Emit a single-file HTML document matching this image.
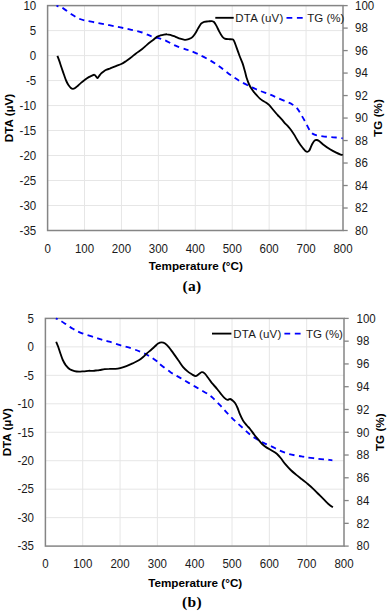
<!DOCTYPE html>
<html><head><meta charset="utf-8"><style>
html,body{margin:0;padding:0;background:#fff;}
svg{display:block;}
.t{font-family:"Liberation Sans",sans-serif;font-size:11.5px;fill:#1a1a1a;}
.b{font-family:"Liberation Sans",sans-serif;font-size:11.7px;font-weight:bold;fill:#000;}
.l{letter-spacing:0.25px;}
.c{font-family:"Liberation Serif",serif;font-size:15.5px;font-weight:bold;letter-spacing:0.3px;fill:#000;}
</style></head><body>
<svg width="387" height="611" viewBox="0 0 387 611">
<rect width="387" height="611" fill="#fff"/>
<line x1="47.6" y1="30.59" x2="343.0" y2="30.59" stroke="#e6e6e6" stroke-width="1"/>
<line x1="47.6" y1="55.58" x2="343.0" y2="55.58" stroke="#e6e6e6" stroke-width="1"/>
<line x1="47.6" y1="80.57" x2="343.0" y2="80.57" stroke="#e6e6e6" stroke-width="1"/>
<line x1="47.6" y1="105.56" x2="343.0" y2="105.56" stroke="#e6e6e6" stroke-width="1"/>
<line x1="47.6" y1="130.54" x2="343.0" y2="130.54" stroke="#e6e6e6" stroke-width="1"/>
<line x1="47.6" y1="155.53" x2="343.0" y2="155.53" stroke="#e6e6e6" stroke-width="1"/>
<line x1="47.6" y1="180.52" x2="343.0" y2="180.52" stroke="#e6e6e6" stroke-width="1"/>
<line x1="47.6" y1="205.51" x2="343.0" y2="205.51" stroke="#e6e6e6" stroke-width="1"/>
<line x1="84.53" y1="5.6" x2="84.53" y2="230.5" stroke="#e6e6e6" stroke-width="1"/>
<line x1="121.45" y1="5.6" x2="121.45" y2="230.5" stroke="#e6e6e6" stroke-width="1"/>
<line x1="158.38" y1="5.6" x2="158.38" y2="230.5" stroke="#e6e6e6" stroke-width="1"/>
<line x1="195.30" y1="5.6" x2="195.30" y2="230.5" stroke="#e6e6e6" stroke-width="1"/>
<line x1="232.22" y1="5.6" x2="232.22" y2="230.5" stroke="#e6e6e6" stroke-width="1"/>
<line x1="269.15" y1="5.6" x2="269.15" y2="230.5" stroke="#e6e6e6" stroke-width="1"/>
<line x1="306.07" y1="5.6" x2="306.07" y2="230.5" stroke="#e6e6e6" stroke-width="1"/>
<rect x="47.6" y="5.6" width="295.40" height="224.90" fill="none" stroke="#858585" stroke-width="1.5"/>
<line x1="343.0" y1="5.60" x2="347.70" y2="5.60" stroke="#858585" stroke-width="1.3"/>
<line x1="343.0" y1="28.09" x2="347.70" y2="28.09" stroke="#858585" stroke-width="1.3"/>
<line x1="343.0" y1="50.58" x2="347.70" y2="50.58" stroke="#858585" stroke-width="1.3"/>
<line x1="343.0" y1="73.07" x2="347.70" y2="73.07" stroke="#858585" stroke-width="1.3"/>
<line x1="343.0" y1="95.56" x2="347.70" y2="95.56" stroke="#858585" stroke-width="1.3"/>
<line x1="343.0" y1="118.05" x2="347.70" y2="118.05" stroke="#858585" stroke-width="1.3"/>
<line x1="343.0" y1="140.54" x2="347.70" y2="140.54" stroke="#858585" stroke-width="1.3"/>
<line x1="343.0" y1="163.03" x2="347.70" y2="163.03" stroke="#858585" stroke-width="1.3"/>
<line x1="343.0" y1="185.52" x2="347.70" y2="185.52" stroke="#858585" stroke-width="1.3"/>
<line x1="343.0" y1="208.01" x2="347.70" y2="208.01" stroke="#858585" stroke-width="1.3"/>
<line x1="343.0" y1="230.50" x2="347.70" y2="230.50" stroke="#858585" stroke-width="1.3"/>
<path d="M56.5,6.0 C56.8,6.0 57.3,5.9 58.5,6.3 C59.7,6.7 61.4,7.2 63.6,8.6 C65.8,10.0 69.5,12.9 71.9,14.5 C74.3,16.1 76.0,17.2 78.1,18.2 C80.2,19.2 81.2,19.6 84.3,20.3 C87.4,21.1 92.5,21.9 96.7,22.7 C100.9,23.5 105.3,24.4 109.3,25.2 C113.3,26.0 116.8,26.6 120.5,27.4 C124.2,28.2 127.8,28.9 131.4,29.8 C135.0,30.7 138.8,31.4 142.2,32.5 C145.5,33.6 148.9,35.5 151.5,36.4 C154.1,37.3 155.5,37.3 157.7,37.9 C159.9,38.5 161.7,38.9 164.7,40.2 C167.7,41.5 171.9,44.1 175.5,45.7 C179.1,47.3 184.0,48.8 186.4,49.6 C188.8,50.4 188.0,49.8 190.0,50.6 C192.0,51.4 195.2,52.7 198.3,54.2 C201.4,55.7 205.5,57.8 208.6,59.5 C211.7,61.2 214.2,62.7 216.9,64.6 C219.7,66.5 222.3,68.7 225.1,70.8 C227.8,72.9 230.6,75.1 233.4,77.0 C236.2,78.9 238.6,80.5 241.7,82.2 C244.8,83.9 248.9,86.0 252.0,87.4 C255.1,88.9 257.0,89.7 260.0,90.9 C263.0,92.1 267.1,93.4 270.0,94.6 C272.9,95.8 274.7,96.6 277.6,97.9 C280.5,99.2 285.2,101.2 287.6,102.2 C290.0,103.2 290.6,103.4 292.0,104.2 C293.4,105.0 294.9,106.0 296.1,107.2 C297.3,108.4 298.4,110.0 299.3,111.4 C300.2,112.8 300.8,114.1 301.8,115.8 C302.8,117.5 304.1,119.7 305.2,121.7 C306.3,123.7 307.3,126.1 308.3,127.9 C309.3,129.7 310.2,131.4 311.4,132.6 C312.5,133.8 313.6,134.3 315.2,134.9 C316.8,135.5 318.5,135.7 320.7,136.0 C322.9,136.3 325.8,136.7 328.4,136.9 C331.0,137.2 333.8,137.3 336.2,137.5 C338.6,137.7 341.6,138.2 342.7,138.3" fill="none" stroke="#0000ff" stroke-width="1.85" stroke-dasharray="5.5 4.4" stroke-dashoffset="3.5"/>
<path d="M57.4,55.9 C57.7,56.7 58.6,58.9 59.3,60.9 C60.0,62.9 60.8,65.5 61.6,67.8 C62.4,70.1 63.2,72.6 64.0,74.8 C64.8,77.0 65.5,79.2 66.3,81.0 C67.1,82.8 67.8,84.1 68.6,85.3 C69.4,86.5 70.2,87.4 70.9,88.0 C71.6,88.6 72.2,88.8 72.9,88.8 C73.6,88.8 74.3,88.5 75.1,88.0 C75.9,87.5 76.9,86.5 77.9,85.7 C78.9,84.9 79.8,83.9 81.0,82.9 C82.2,81.9 83.6,80.8 84.9,79.8 C86.2,78.8 87.6,77.8 88.8,77.1 C90.0,76.4 91.0,76.0 91.9,75.6 C92.8,75.2 93.7,74.6 94.4,74.8 C95.2,75.0 95.9,76.4 96.4,76.9 C96.9,77.5 97.2,78.2 97.6,78.1 C98.0,78.0 98.4,77.0 99.0,76.2 C99.6,75.4 100.3,74.2 101.2,73.3 C102.1,72.4 103.3,71.6 104.3,70.9 C105.3,70.2 106.5,69.8 107.4,69.4 C108.3,69.0 108.3,69.1 109.7,68.6 C111.1,68.0 114.0,66.9 115.9,66.1 C117.8,65.3 119.6,64.8 121.3,64.0 C123.0,63.2 124.4,62.2 125.9,61.2 C127.5,60.2 128.9,59.1 130.6,57.8 C132.3,56.5 134.1,54.8 136.0,53.4 C137.9,52.0 140.4,50.5 142.2,49.1 C144.0,47.7 145.5,46.1 146.9,44.9 C148.3,43.7 149.5,42.7 150.7,41.8 C151.8,40.9 152.8,40.4 153.8,39.5 C154.8,38.6 155.9,37.4 156.9,36.7 C157.9,36.1 159.0,35.9 160.0,35.6 C161.0,35.3 161.9,35.0 163.1,34.8 C164.3,34.6 165.7,34.2 167.0,34.3 C168.3,34.3 169.5,34.7 170.9,35.1 C172.3,35.5 173.9,36.2 175.5,36.8 C177.1,37.4 178.6,38.2 180.2,38.7 C181.8,39.2 183.4,39.7 184.8,39.8 C186.2,39.9 187.5,39.5 188.7,39.1 C189.9,38.7 190.8,38.5 191.8,37.6 C192.8,36.8 193.9,35.5 194.9,34.0 C195.9,32.5 197.0,30.3 198.0,28.6 C199.0,26.9 200.1,24.7 201.1,23.6 C202.1,22.5 203.0,22.2 204.2,21.8 C205.4,21.4 206.8,21.5 208.1,21.4 C209.4,21.3 210.9,21.0 211.9,21.1 C212.9,21.2 213.3,21.3 214.0,22.0 C214.7,22.7 215.3,23.8 216.2,25.4 C217.1,27.0 218.3,29.7 219.3,31.6 C220.3,33.5 221.5,35.5 222.4,36.7 C223.3,37.9 223.7,38.2 224.7,38.6 C225.7,39.0 227.3,39.1 228.6,39.2 C229.9,39.3 231.6,39.1 232.5,39.4 C233.4,39.7 233.3,39.6 234.0,40.9 C234.7,42.2 235.5,44.6 236.4,47.1 C237.3,49.6 238.5,53.0 239.5,55.7 C240.5,58.4 241.7,60.8 242.6,63.4 C243.5,66.0 244.2,68.8 244.9,71.2 C245.6,73.6 245.9,75.7 246.6,77.8 C247.3,79.9 248.1,82.2 248.9,84.0 C249.7,85.8 250.3,86.9 251.2,88.3 C252.1,89.7 253.3,91.2 254.3,92.5 C255.3,93.8 256.4,94.9 257.4,96.0 C258.4,97.1 259.6,98.3 260.5,99.1 C261.4,99.9 261.9,100.1 262.8,100.7 C263.7,101.3 264.9,101.9 265.9,102.6 C266.9,103.3 267.8,103.8 269.0,104.9 C270.2,106.1 271.5,107.8 272.9,109.5 C274.3,111.2 276.1,113.3 277.6,115.0 C279.2,116.7 281.0,118.5 282.2,119.9 C283.4,121.3 284.0,122.2 285.0,123.3 C286.0,124.4 287.1,125.2 288.1,126.4 C289.1,127.6 290.2,128.8 291.2,130.2 C292.2,131.6 293.3,133.2 294.3,134.9 C295.3,136.6 296.4,138.6 297.4,140.3 C298.4,142.0 299.5,143.6 300.5,145.0 C301.5,146.4 302.5,147.6 303.3,148.6 C304.1,149.6 304.7,150.4 305.4,150.9 C306.1,151.4 306.7,151.8 307.3,151.8 C307.9,151.8 308.4,151.6 308.9,151.0 C309.4,150.4 309.8,149.6 310.3,148.5 C310.8,147.4 311.4,145.5 312.1,144.2 C312.8,142.9 313.7,141.3 314.5,140.6 C315.3,139.9 316.0,139.9 316.8,140.0 C317.6,140.1 317.9,140.3 319.1,141.1 C320.3,141.9 322.0,143.6 323.8,145.0 C325.6,146.4 327.9,148.0 330.0,149.3 C332.1,150.6 334.4,151.8 336.2,152.7 C338.0,153.6 339.7,154.2 340.8,154.6 C341.9,155.0 342.4,154.9 342.7,155.0" fill="none" stroke="#000" stroke-width="1.85" stroke-linejoin="round"/>
<line x1="215.3" y1="17.8" x2="233.7" y2="17.8" stroke="#000" stroke-width="1.85"/>
<text x="235.2" y="21.7" class="t l">DTA (uV)</text>
<line x1="286.5" y1="17.8" x2="303.0" y2="17.8" stroke="#0000ff" stroke-width="1.85" stroke-dasharray="5.8 4.6"/>
<text x="307.3" y="21.7" class="t">TG (%)</text>
<text transform="translate(36.2,9.90) scale(1,1.08)" class="t" text-anchor="end">10</text>
<text transform="translate(36.2,34.89) scale(1,1.08)" class="t" text-anchor="end">5</text>
<text transform="translate(36.2,59.88) scale(1,1.08)" class="t" text-anchor="end">0</text>
<text transform="translate(36.2,84.87) scale(1,1.08)" class="t" text-anchor="end">-5</text>
<text transform="translate(36.2,109.86) scale(1,1.08)" class="t" text-anchor="end">-10</text>
<text transform="translate(36.2,134.84) scale(1,1.08)" class="t" text-anchor="end">-15</text>
<text transform="translate(36.2,159.83) scale(1,1.08)" class="t" text-anchor="end">-20</text>
<text transform="translate(36.2,184.82) scale(1,1.08)" class="t" text-anchor="end">-25</text>
<text transform="translate(36.2,209.81) scale(1,1.08)" class="t" text-anchor="end">-30</text>
<text transform="translate(36.2,234.80) scale(1,1.08)" class="t" text-anchor="end">-35</text>
<text transform="translate(355.0,9.90) scale(1,1.08)" class="t">100</text>
<text transform="translate(355.0,32.39) scale(1,1.08)" class="t">98</text>
<text transform="translate(355.0,54.88) scale(1,1.08)" class="t">96</text>
<text transform="translate(355.0,77.37) scale(1,1.08)" class="t">94</text>
<text transform="translate(355.0,99.86) scale(1,1.08)" class="t">92</text>
<text transform="translate(355.0,122.35) scale(1,1.08)" class="t">90</text>
<text transform="translate(355.0,144.84) scale(1,1.08)" class="t">88</text>
<text transform="translate(355.0,167.33) scale(1,1.08)" class="t">86</text>
<text transform="translate(355.0,189.82) scale(1,1.08)" class="t">84</text>
<text transform="translate(355.0,212.31) scale(1,1.08)" class="t">82</text>
<text transform="translate(355.0,234.80) scale(1,1.08)" class="t">80</text>
<text transform="translate(47.60,252.5) scale(1,1.08)" class="t" text-anchor="middle">0</text>
<text transform="translate(84.53,252.5) scale(1,1.08)" class="t" text-anchor="middle">100</text>
<text transform="translate(121.45,252.5) scale(1,1.08)" class="t" text-anchor="middle">200</text>
<text transform="translate(158.38,252.5) scale(1,1.08)" class="t" text-anchor="middle">300</text>
<text transform="translate(195.30,252.5) scale(1,1.08)" class="t" text-anchor="middle">400</text>
<text transform="translate(232.22,252.5) scale(1,1.08)" class="t" text-anchor="middle">500</text>
<text transform="translate(269.15,252.5) scale(1,1.08)" class="t" text-anchor="middle">600</text>
<text transform="translate(306.07,252.5) scale(1,1.08)" class="t" text-anchor="middle">700</text>
<text transform="translate(343.00,252.5) scale(1,1.08)" class="t" text-anchor="middle">800</text>
<text transform="translate(12.7,118.0) rotate(-90)" class="b" text-anchor="middle">DTA (µV)</text>
<text transform="translate(381.8,118.0) rotate(-90)" class="b" text-anchor="middle">TG (%)</text>
<text x="195.8" y="270.3" class="b" text-anchor="middle">Temperature (°C)</text>
<text x="192" y="291.0" class="c" text-anchor="middle">(a)</text>
<line x1="45.4" y1="346.86" x2="344.0" y2="346.86" stroke="#e6e6e6" stroke-width="1"/>
<line x1="45.4" y1="375.32" x2="344.0" y2="375.32" stroke="#e6e6e6" stroke-width="1"/>
<line x1="45.4" y1="403.79" x2="344.0" y2="403.79" stroke="#e6e6e6" stroke-width="1"/>
<line x1="45.4" y1="432.25" x2="344.0" y2="432.25" stroke="#e6e6e6" stroke-width="1"/>
<line x1="45.4" y1="460.71" x2="344.0" y2="460.71" stroke="#e6e6e6" stroke-width="1"/>
<line x1="45.4" y1="489.18" x2="344.0" y2="489.18" stroke="#e6e6e6" stroke-width="1"/>
<line x1="45.4" y1="517.64" x2="344.0" y2="517.64" stroke="#e6e6e6" stroke-width="1"/>
<line x1="82.72" y1="318.4" x2="82.72" y2="546.1" stroke="#e6e6e6" stroke-width="1"/>
<line x1="120.05" y1="318.4" x2="120.05" y2="546.1" stroke="#e6e6e6" stroke-width="1"/>
<line x1="157.38" y1="318.4" x2="157.38" y2="546.1" stroke="#e6e6e6" stroke-width="1"/>
<line x1="194.70" y1="318.4" x2="194.70" y2="546.1" stroke="#e6e6e6" stroke-width="1"/>
<line x1="232.03" y1="318.4" x2="232.03" y2="546.1" stroke="#e6e6e6" stroke-width="1"/>
<line x1="269.35" y1="318.4" x2="269.35" y2="546.1" stroke="#e6e6e6" stroke-width="1"/>
<line x1="306.68" y1="318.4" x2="306.68" y2="546.1" stroke="#e6e6e6" stroke-width="1"/>
<rect x="45.4" y="318.4" width="298.60" height="227.70" fill="none" stroke="#858585" stroke-width="1.5"/>
<line x1="344.0" y1="318.40" x2="348.70" y2="318.40" stroke="#858585" stroke-width="1.3"/>
<line x1="344.0" y1="341.17" x2="348.70" y2="341.17" stroke="#858585" stroke-width="1.3"/>
<line x1="344.0" y1="363.94" x2="348.70" y2="363.94" stroke="#858585" stroke-width="1.3"/>
<line x1="344.0" y1="386.71" x2="348.70" y2="386.71" stroke="#858585" stroke-width="1.3"/>
<line x1="344.0" y1="409.48" x2="348.70" y2="409.48" stroke="#858585" stroke-width="1.3"/>
<line x1="344.0" y1="432.25" x2="348.70" y2="432.25" stroke="#858585" stroke-width="1.3"/>
<line x1="344.0" y1="455.02" x2="348.70" y2="455.02" stroke="#858585" stroke-width="1.3"/>
<line x1="344.0" y1="477.79" x2="348.70" y2="477.79" stroke="#858585" stroke-width="1.3"/>
<line x1="344.0" y1="500.56" x2="348.70" y2="500.56" stroke="#858585" stroke-width="1.3"/>
<line x1="344.0" y1="523.33" x2="348.70" y2="523.33" stroke="#858585" stroke-width="1.3"/>
<line x1="344.0" y1="546.10" x2="348.70" y2="546.10" stroke="#858585" stroke-width="1.3"/>
<path d="M55.8,318.5 C56.2,318.6 57.2,318.8 58.0,319.2 C58.8,319.6 59.4,319.9 60.5,320.6 C61.6,321.3 63.4,322.5 64.7,323.4 C66.0,324.3 67.0,325.0 68.4,325.9 C69.8,326.8 71.5,328.0 72.9,328.8 C74.3,329.6 75.2,330.1 76.7,330.9 C78.2,331.6 80.0,332.5 82.2,333.3 C84.4,334.1 87.4,335.1 90.0,335.9 C92.6,336.7 95.6,337.6 97.7,338.3 C99.8,339.0 100.5,339.2 102.4,339.8 C104.3,340.4 106.3,340.8 109.3,341.7 C112.3,342.6 116.6,344.1 120.2,345.2 C123.8,346.3 127.7,347.2 131.0,348.3 C134.3,349.4 137.7,350.7 140.3,351.7 C142.9,352.7 144.4,353.4 146.5,354.5 C148.6,355.6 150.8,357.0 152.7,358.3 C154.6,359.6 156.7,361.1 158.1,362.2 C159.5,363.3 159.1,363.5 161.2,365.2 C163.3,366.9 167.4,370.1 170.5,372.2 C173.6,374.3 176.7,375.8 179.8,377.6 C182.9,379.4 186.0,381.3 189.1,383.1 C192.2,384.9 195.3,386.7 198.4,388.5 C201.5,390.3 205.3,392.3 207.7,393.9 C210.1,395.5 210.7,395.9 212.8,397.9 C214.9,399.9 217.9,403.0 220.5,405.7 C223.1,408.4 225.7,411.5 228.3,414.2 C230.9,416.9 233.4,419.4 236.0,421.9 C238.6,424.3 241.3,426.6 243.8,428.9 C246.3,431.2 248.9,433.8 251.2,435.5 C253.5,437.2 255.3,438.2 257.4,439.4 C259.5,440.6 261.3,441.7 263.6,442.9 C265.9,444.1 268.8,445.2 271.4,446.4 C274.0,447.6 276.5,449.0 279.1,450.2 C281.7,451.4 284.3,452.4 286.9,453.3 C289.5,454.2 292.2,454.8 294.6,455.3 C297.1,455.8 299.5,456.0 301.6,456.4 C303.7,456.8 304.3,457.0 307.1,457.4 C309.9,457.8 315.1,458.4 318.4,458.8 C321.7,459.2 324.7,459.4 327.0,459.6 C329.3,459.9 331.5,460.2 332.4,460.3" fill="none" stroke="#0000ff" stroke-width="1.85" stroke-dasharray="5.5 4.4" stroke-dashoffset="3.5"/>
<path d="M56.2,341.8 C56.5,342.6 57.5,344.8 58.2,346.8 C58.9,348.8 59.7,351.6 60.5,353.8 C61.3,356.0 61.9,358.1 62.8,360.0 C63.7,361.9 64.7,363.8 65.9,365.4 C67.1,366.9 68.4,368.4 69.8,369.3 C71.2,370.2 73.0,370.7 74.5,371.1 C76.0,371.5 77.5,371.6 79.1,371.6 C80.6,371.6 82.2,371.4 83.8,371.3 C85.3,371.2 86.9,370.9 88.4,370.8 C90.0,370.7 91.5,370.9 93.1,370.8 C94.6,370.7 96.5,370.4 97.7,370.3 C98.9,370.2 98.8,370.2 100.0,370.0 C101.2,369.8 103.2,369.4 104.7,369.2 C106.2,369.0 107.5,368.9 109.3,368.9 C111.1,368.8 113.7,369.0 115.5,368.9 C117.3,368.8 118.4,368.6 120.2,368.1 C122.0,367.6 124.3,366.9 126.4,366.1 C128.5,365.3 130.5,364.4 132.6,363.4 C134.7,362.4 137.0,361.4 138.8,360.3 C140.6,359.2 142.1,357.9 143.4,356.8 C144.7,355.7 145.2,354.9 146.5,353.7 C147.8,352.5 149.8,351.0 151.2,349.8 C152.6,348.6 153.8,347.4 155.0,346.3 C156.2,345.2 157.0,344.2 158.1,343.5 C159.2,342.8 160.3,342.3 161.5,342.3 C162.7,342.3 163.8,342.6 165.1,343.5 C166.3,344.4 167.6,345.7 169.0,347.4 C170.4,349.1 172.0,351.5 173.6,353.6 C175.2,355.8 176.8,358.1 178.3,360.3 C179.9,362.5 181.4,365.0 182.9,366.8 C184.4,368.6 186.1,370.1 187.6,371.4 C189.1,372.7 190.9,373.7 192.2,374.5 C193.5,375.3 194.6,376.1 195.6,376.1 C196.6,376.1 197.4,375.1 198.4,374.5 C199.4,373.9 200.8,372.4 201.8,372.2 C202.8,372.0 203.6,372.5 204.6,373.4 C205.6,374.3 206.9,376.2 208.1,377.8 C209.3,379.4 210.6,381.4 212.0,383.2 C213.4,384.9 215.2,386.6 216.6,388.3 C218.0,390.0 219.2,391.7 220.5,393.3 C221.8,394.9 223.2,396.8 224.4,397.9 C225.6,399.0 226.6,399.6 227.5,399.8 C228.4,400.0 229.2,398.9 230.1,399.0 C231.0,399.1 232.1,400.0 232.9,400.7 C233.8,401.4 234.4,402.1 235.2,403.3 C236.0,404.5 236.8,406.2 237.6,408.0 C238.4,409.8 239.0,412.1 239.9,414.2 C240.8,416.3 241.8,418.5 243.0,420.4 C244.2,422.3 245.8,424.1 246.9,425.5 C248.0,426.9 248.5,427.0 249.7,428.5 C250.9,430.0 252.9,432.9 254.3,434.7 C255.7,436.5 256.9,437.8 258.2,439.4 C259.5,440.9 260.7,442.6 262.1,444.0 C263.5,445.4 265.0,446.5 266.7,447.6 C268.4,448.7 270.4,449.7 272.1,450.7 C273.8,451.7 275.4,452.6 276.8,453.8 C278.2,455.0 279.3,456.3 280.7,458.0 C282.1,459.7 283.6,462.2 285.3,464.2 C287.0,466.2 288.9,468.3 290.7,470.0 C292.5,471.7 294.2,473.1 296.0,474.6 C297.8,476.1 299.5,477.4 301.4,478.9 C303.2,480.4 305.2,481.8 307.1,483.4 C309.0,485.0 310.8,486.5 312.7,488.3 C314.6,490.1 316.5,492.1 318.4,494.0 C320.3,495.9 322.4,498.0 324.1,499.7 C325.8,501.4 326.9,502.7 328.4,504.0 C329.9,505.3 332.1,506.8 332.9,507.3" fill="none" stroke="#000" stroke-width="1.85" stroke-linejoin="round"/>
<line x1="212.0" y1="333.6" x2="231.4" y2="333.6" stroke="#000" stroke-width="1.85"/>
<text x="233.2" y="337.5" class="t l">DTA (uV)</text>
<line x1="284.4" y1="333.6" x2="300.9" y2="333.6" stroke="#0000ff" stroke-width="1.85" stroke-dasharray="5.8 4.6"/>
<text x="305.9" y="337.5" class="t">TG (%)</text>
<text transform="translate(34.0,322.70) scale(1,1.08)" class="t" text-anchor="end">5</text>
<text transform="translate(34.0,351.16) scale(1,1.08)" class="t" text-anchor="end">0</text>
<text transform="translate(34.0,379.62) scale(1,1.08)" class="t" text-anchor="end">-5</text>
<text transform="translate(34.0,408.09) scale(1,1.08)" class="t" text-anchor="end">-10</text>
<text transform="translate(34.0,436.55) scale(1,1.08)" class="t" text-anchor="end">-15</text>
<text transform="translate(34.0,465.01) scale(1,1.08)" class="t" text-anchor="end">-20</text>
<text transform="translate(34.0,493.48) scale(1,1.08)" class="t" text-anchor="end">-25</text>
<text transform="translate(34.0,521.94) scale(1,1.08)" class="t" text-anchor="end">-30</text>
<text transform="translate(34.0,550.40) scale(1,1.08)" class="t" text-anchor="end">-35</text>
<text transform="translate(356.6,322.70) scale(1,1.08)" class="t">100</text>
<text transform="translate(356.6,345.47) scale(1,1.08)" class="t">98</text>
<text transform="translate(356.6,368.24) scale(1,1.08)" class="t">96</text>
<text transform="translate(356.6,391.01) scale(1,1.08)" class="t">94</text>
<text transform="translate(356.6,413.78) scale(1,1.08)" class="t">92</text>
<text transform="translate(356.6,436.55) scale(1,1.08)" class="t">90</text>
<text transform="translate(356.6,459.32) scale(1,1.08)" class="t">88</text>
<text transform="translate(356.6,482.09) scale(1,1.08)" class="t">86</text>
<text transform="translate(356.6,504.86) scale(1,1.08)" class="t">84</text>
<text transform="translate(356.6,527.63) scale(1,1.08)" class="t">82</text>
<text transform="translate(356.6,550.40) scale(1,1.08)" class="t">80</text>
<text transform="translate(45.40,567.5) scale(1,1.08)" class="t" text-anchor="middle">0</text>
<text transform="translate(82.72,567.5) scale(1,1.08)" class="t" text-anchor="middle">100</text>
<text transform="translate(120.05,567.5) scale(1,1.08)" class="t" text-anchor="middle">200</text>
<text transform="translate(157.38,567.5) scale(1,1.08)" class="t" text-anchor="middle">300</text>
<text transform="translate(194.70,567.5) scale(1,1.08)" class="t" text-anchor="middle">400</text>
<text transform="translate(232.03,567.5) scale(1,1.08)" class="t" text-anchor="middle">500</text>
<text transform="translate(269.35,567.5) scale(1,1.08)" class="t" text-anchor="middle">600</text>
<text transform="translate(306.68,567.5) scale(1,1.08)" class="t" text-anchor="middle">700</text>
<text transform="translate(344.00,567.5) scale(1,1.08)" class="t" text-anchor="middle">800</text>
<text transform="translate(10.9,432.2) rotate(-90)" class="b" text-anchor="middle">DTA (µV)</text>
<text transform="translate(383.8,432.2) rotate(-90)" class="b" text-anchor="middle">TG (%)</text>
<text x="195.2" y="587.0" class="b" text-anchor="middle">Temperature (°C)</text>
<text x="192" y="606.5" class="c" text-anchor="middle">(b)</text>
</svg>
</body></html>
